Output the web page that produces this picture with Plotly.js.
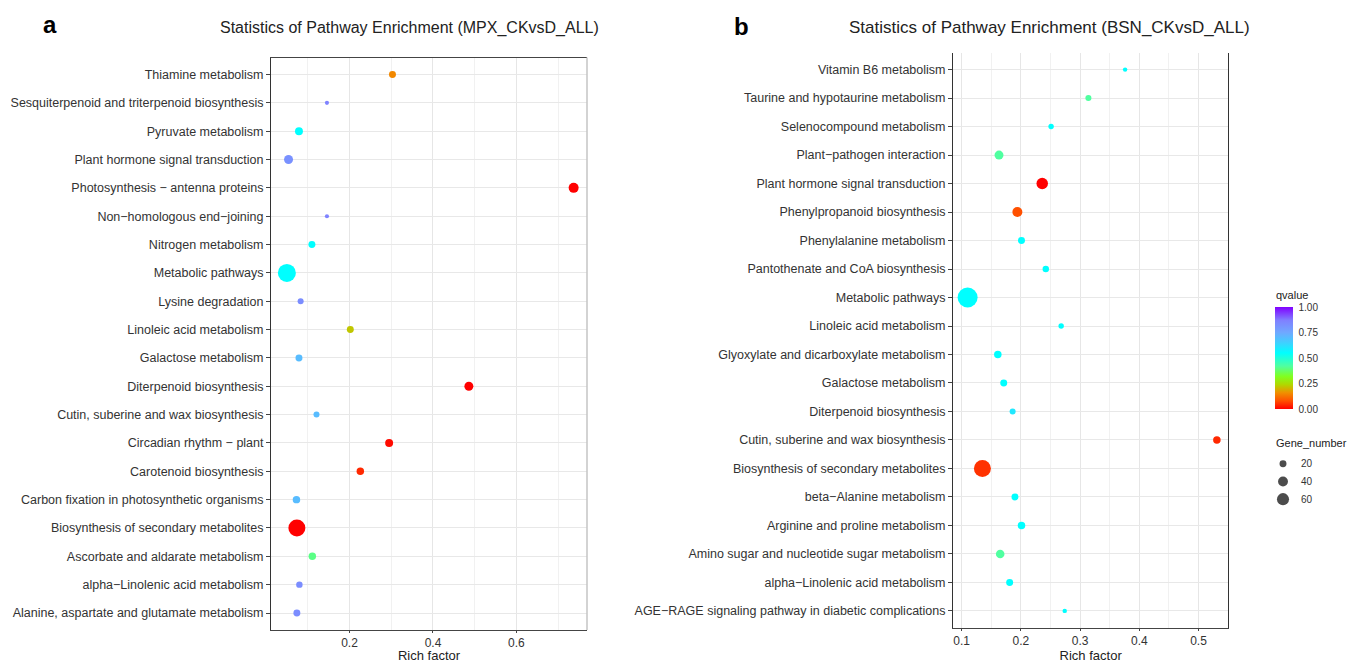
<!DOCTYPE html>
<html><head><meta charset="utf-8">
<script src="https://cdn.plot.ly/plotly-3.0.1.min.js"></script>
<style>html,body{margin:0;padding:0;background:#fff}#chart{width:1354px;height:663px}</style>
</head><body><div id="chart"></div>
<script>
// ---------- Panel a: MPX_CKvsD_ALL (listed top to bottom) ----------
const pathwaysA = [
  "Thiamine metabolism",
  "Sesquiterpenoid and triterpenoid biosynthesis",
  "Pyruvate metabolism",
  "Plant hormone signal transduction",
  "Photosynthesis \u2212 antenna proteins",
  "Non\u2212homologous end\u2212joining",
  "Nitrogen metabolism",
  "Metabolic pathways",
  "Lysine degradation",
  "Linoleic acid metabolism",
  "Galactose metabolism",
  "Diterpenoid biosynthesis",
  "Cutin, suberine and wax biosynthesis",
  "Circadian rhythm \u2212 plant",
  "Carotenoid biosynthesis",
  "Carbon fixation in photosynthetic organisms",
  "Biosynthesis of secondary metabolites",
  "Ascorbate and aldarate metabolism",
  "alpha\u2212Linolenic acid metabolism",
  "Alanine, aspartate and glutamate metabolism"
];
const richA  = [0.303,0.146,0.079,0.054,0.737,0.146,0.110,0.050,0.083,0.202,0.079,0.486,0.121,0.295,0.226,0.073,0.074,0.111,0.080,0.074];
const qA     = [0.15,0.86,0.55,0.82,0.00,0.86,0.55,0.55,0.83,0.22,0.70,0.00,0.70,0.01,0.04,0.70,0.00,0.40,0.83,0.83];
const genesA = [20,7,26,33,41,7,20,133,15,20,20,33,15,26,23,23,118,23,17,20];

// ---------- Panel b: BSN_CKvsD_ALL (listed top to bottom) ----------
const pathwaysB = [
  "Vitamin B6 metabolism",
  "Taurine and hypotaurine metabolism",
  "Selenocompound metabolism",
  "Plant\u2212pathogen interaction",
  "Plant hormone signal transduction",
  "Phenylpropanoid biosynthesis",
  "Phenylalanine metabolism",
  "Pantothenate and CoA biosynthesis",
  "Metabolic pathways",
  "Linoleic acid metabolism",
  "Glyoxylate and dicarboxylate metabolism",
  "Galactose metabolism",
  "Diterpenoid biosynthesis",
  "Cutin, suberine and wax biosynthesis",
  "Biosynthesis of secondary metabolites",
  "beta\u2212Alanine metabolism",
  "Arginine and proline metabolism",
  "Amino sugar and nucleotide sugar metabolism",
  "alpha\u2212Linolenic acid metabolism",
  "AGE\u2212RAGE signaling pathway in diabetic complications"
];
const richB  = [0.376,0.314,0.251,0.163,0.236,0.194,0.201,0.242,0.110,0.268,0.161,0.171,0.186,0.531,0.135,0.190,0.201,0.165,0.181,0.274];
const qB     = [0.55,0.42,0.55,0.42,0.00,0.08,0.55,0.55,0.55,0.55,0.55,0.55,0.60,0.04,0.05,0.55,0.55,0.42,0.55,0.55];
const genesB = [8,15,12,33,54,41,20,17,164,12,23,20,15,23,118,20,23,30,20,8];

// ---------- Legend ----------
const legendGenes = [20,40,60];
const qTicks = [0,0.25,0.5,0.75,1];
const qTickText = ["0.00","0.25","0.50","0.75","1.00"];

const W = 1354, H = 663;
const px = v => v / W;
const py = v => 1 - v / H;
const SIZEREF = 0.82;
const FONT = "Liberation Sans, Arial, sans-serif";

const colorscale = [
  [0.00,"#ff0000"],[0.08,"#ff5000"],[0.16,"#f09000"],[0.24,"#b0d800"],
  [0.32,"#80ff20"],[0.42,"#50ffa0"],[0.55,"#00ffff"],[0.65,"#40d0ff"],
  [0.75,"#70a8ff"],[0.87,"#8080ff"],[1.00,"#8000ff"]
];

const traceA = {
  type:"scatter", mode:"markers", x:richA, y:pathwaysA, xaxis:"x", yaxis:"y",
  marker:{size:genesA, sizemode:"area", sizeref:SIZEREF, color:qA, coloraxis:"coloraxis", line:{width:0}, opacity:1},
  showlegend:false, hoverinfo:"skip"
};
const traceB = {
  type:"scatter", mode:"markers", x:richB, y:pathwaysB, xaxis:"x2", yaxis:"y2",
  marker:{size:genesB, sizemode:"area", sizeref:SIZEREF, color:qB, coloraxis:"coloraxis", line:{width:0}, opacity:1},
  showlegend:false, hoverinfo:"skip"
};
const traceLeg = {
  type:"scatter", mode:"markers", x:legendGenes.map(()=>0.5), y:legendGenes, xaxis:"x3", yaxis:"y3",
  marker:{size:legendGenes, sizemode:"area", sizeref:SIZEREF, color:"#000", line:{width:0}},
  showlegend:false, hoverinfo:"skip"
};

const xTickFont = {family:FONT, size:12, color:"#333"};
const commonX = {
  showgrid:true, gridcolor:"#e6e6e6", gridwidth:1, zeroline:false,
  ticks:"outside", ticklen:2, tickcolor:"#444", tickfont:xTickFont,
  showline:true, linecolor:"#444", linewidth:1,
  title:{text:"Rich factor", font:{family:FONT, size:13, color:"#222"}, standoff:0}
};
const commonY = {
  type:"category", showgrid:true, gridcolor:"#e8e8e8", gridwidth:1, zeroline:false,
  ticks:"outside", ticklen:4, tickcolor:"#444",
  showline:true, linecolor:"#333", linewidth:1, range:[-0.6, 19.6], fixedrange:true
};

const layout = {
  width:W, height:H, margin:{l:0,r:0,t:0,b:0},
  paper_bgcolor:"#fff", plot_bgcolor:"#fff",
  font:{family:FONT, color:"#333"},
  xaxis: Object.assign({}, commonX, {domain:[px(271), px(587)], range:[0.012, 0.769], anchor:"y",
    tick0:0, dtick:0.2, mirror:true,
    minor:{tick0:0, dtick:0.1, showgrid:true, gridcolor:"#f1f1f1", gridwidth:1, ticks:""}}),
  yaxis: Object.assign({}, commonY, {domain:[py(630), py(57.5)], anchor:"x",
    tickfont:{family:FONT, size:12.5, color:"#333"},
    categoryorder:"array", categoryarray:pathwaysA.slice().reverse()}),
  xaxis2: Object.assign({}, commonX, {domain:[px(953), px(1228.3)], range:[0.0853, 0.5503], anchor:"y2",
    tick0:0, dtick:0.1,
    minor:{tick0:0, dtick:0.05, showgrid:true, gridcolor:"#f1f1f1", gridwidth:1, ticks:""}}),
  yaxis2: Object.assign({}, commonY, {domain:[py(628), py(52.5)], anchor:"x2", mirror:true,
    tickfont:{family:FONT, size:12.5, color:"#333"},
    categoryorder:"array", categoryarray:pathwaysB.slice().reverse()}),
  xaxis3: {domain:[px(1274), px(1292)], range:[0,1], anchor:"y3", visible:false, fixedrange:true},
  yaxis3: {domain:[py(508), py(455)], range:[70,10], anchor:"x3", side:"right", showgrid:false, zeroline:false,
    showline:false, ticks:"outside", ticklen:6, tickcolor:"rgba(0,0,0,0)",
    tickvals:legendGenes, ticktext:legendGenes.map(String),
    tickfont:{family:FONT, size:10, color:"#333"}, fixedrange:true},
  coloraxis:{
    cmin:0, cmax:1, colorscale:colorscale,
    colorbar:{x:px(1275), xanchor:"left", y:py(358), yanchor:"middle",
      len:102, lenmode:"pixels", thickness:18, thicknessmode:"pixels",
      outlinewidth:0, xpad:0, ypad:0, ticks:"outside", ticklen:4, tickcolor:"rgba(0,0,0,0)",
      tickvals:qTicks, ticktext:qTickText,
      tickfont:{family:FONT, size:10, color:"#333"}}
  },
  shapes:[
    {type:"line", xref:"x domain", yref:"y domain", x0:1, x1:1, y0:0, y1:1, line:{color:"#c4c4c4", width:1.5}}
  ],
  annotations:[
    {text:"Statistics of Pathway Enrichment (MPX_CKvsD_ALL)", x:px(410), y:py(28), xref:"paper", yref:"paper",
     xanchor:"center", yanchor:"middle", showarrow:false, font:{family:FONT, size:16, color:"#222"}},
    {text:"Statistics of Pathway Enrichment (BSN_CKvsD_ALL)", x:px(1049), y:py(28), xref:"paper", yref:"paper",
     xanchor:"center", yanchor:"middle", showarrow:false, font:{family:FONT, size:17, color:"#222"}},
    {text:"<b>a</b>", x:px(50), y:py(25), xref:"paper", yref:"paper", xanchor:"center", yanchor:"middle",
     showarrow:false, font:{family:FONT, size:24, color:"#000"}},
    {text:"<b>b</b>", x:px(741), y:py(27), xref:"paper", yref:"paper", xanchor:"center", yanchor:"middle",
     showarrow:false, font:{family:FONT, size:24, color:"#000"}},
    {text:"qvalue", x:px(1274), y:py(295), xref:"paper", yref:"paper", xanchor:"left", yanchor:"middle",
     showarrow:false, font:{family:FONT, size:11, color:"#222"}},
    {text:"Gene_number", x:px(1274), y:py(443), xref:"paper", yref:"paper", xanchor:"left", yanchor:"middle",
     showarrow:false, font:{family:FONT, size:11, color:"#222"}}
  ]
};

Plotly.newPlot("chart", [traceA, traceB, traceLeg], layout, {staticPlot:true, displayModeBar:false});
</script>
</body></html>
